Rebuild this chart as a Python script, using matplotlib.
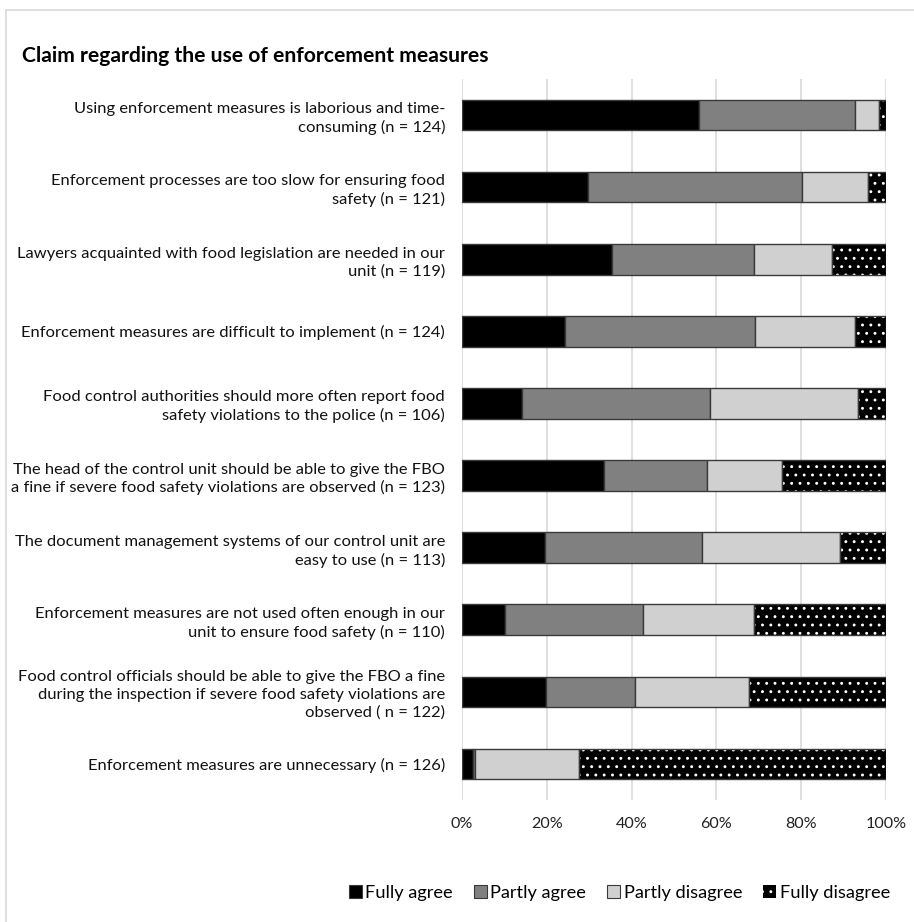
import matplotlib
matplotlib.use("Agg")
import matplotlib.pyplot as plt
from matplotlib.lines import Line2D
from matplotlib.patches import Patch

plt.rcParams['font.family'] = ['Lato', 'DejaVu Sans']
plt.rcParams['hatch.linewidth'] = 0.9

title = "Claim regarding the use of enforcement measures"

claims = [
    "Using enforcement measures is laborious and time-\nconsuming (n = 124)",
    "Enforcement processes are too slow for ensuring food\nsafety (n = 121)",
    "Lawyers acquainted with food legislation are needed in our\nunit (n = 119)",
    "Enforcement measures are difficult to implement (n = 124)",
    "Food control authorities should more often report food\nsafety violations to the police (n = 106)",
    "The head of the control unit should be able to give the FBO\na fine if severe food safety violations are observed (n = 123)",
    "The document management systems of our control unit are\neasy to use (n = 113)",
    "Enforcement measures are not used often enough in our\nunit to ensure food safety (n = 110)",
    "Food control officials should be able to give the FBO a fine\nduring the inspection if severe food safety violations are\nobserved ( n = 122)",
    "Enforcement measures are unnecessary (n = 126)",
]

# Shares of respondents (%)
fully_agree     = [55.9, 29.8, 35.4, 24.2, 14.2, 33.4, 19.5, 10.1, 19.7, 2.5]
partly_agree    = [36.8, 50.3, 33.4, 45.0, 44.3, 24.3, 37.1, 32.5, 21.2, 0.6]
partly_disagree = [5.6, 15.7, 18.5, 23.5, 34.8, 17.8, 32.6, 26.3, 26.9, 24.4]
fully_disagree  = [1.7, 4.2, 12.7, 7.3, 6.7, 24.5, 10.8, 31.1, 32.2, 72.5]

series_names = ["Fully agree", "Partly agree", "Partly disagree", "Fully disagree"]
x_ticks = [0, 20, 40, 60, 80, 100]
x_ticklabels = ["0%", "20%", "40%", "60%", "80%", "100%"]

W, H = 914, 922
DPI = 100
fig = plt.figure(figsize=(W / DPI, H / DPI), dpi=DPI)
renderer = fig.canvas.get_renderer()


def size_for_width(text, width_px, weight="normal"):
    """Font size (pt) at which `text` spans `width_px` pixels."""
    probe = fig.text(0, 0, text, fontsize=10, fontweight=weight)
    w = probe.get_window_extent(renderer).width
    probe.remove()
    return 10 * width_px / w


fs_label = size_for_width("Using enforcement measures is laborious and time-", 370)
fs_tick = size_for_width("100%", 41)
fs_leg = size_for_width("Fully disagree", 110)
fs_title = size_for_width(title, 468, weight="bold")

# light outer frame
fig.add_artist(Line2D([6 / W, 6 / W], [0, 1 - 10 / H], color="#d9d9d9", lw=1.2))
fig.add_artist(Line2D([6 / W, 1], [1 - 10 / H, 1 - 10 / H], color="#d9d9d9", lw=1.2))

ax = fig.add_axes([462 / W, 1 - 800 / H, 424 / W, 721 / H])

y = list(range(len(claims)))
edge = "#3a3a3a"
bh = 0.425

left = [0.0] * len(claims)
ax.barh(y, fully_agree, left=left, height=bh, color="black", edgecolor=edge, linewidth=1.0, zorder=3)
left = [a + b for a, b in zip(left, fully_agree)]
ax.barh(y, partly_agree, left=left, height=bh, color="#808080", edgecolor=edge, linewidth=1.0, zorder=3)
left = [a + b for a, b in zip(left, partly_agree)]
ax.barh(y, partly_disagree, left=left, height=bh, color="#d0d0d0", edgecolor=edge, linewidth=1.0, zorder=3)
left = [a + b for a, b in zip(left, partly_disagree)]
# dotted segment: black fill with white dots, then a dark outline on top
ax.barh(y, fully_disagree, left=left, height=bh, color="black", edgecolor="white",
        hatch="..", linewidth=0, zorder=3)
ax.barh(y, fully_disagree, left=left, height=bh, fill=False, edgecolor=edge, linewidth=1.0, zorder=4)

ax.set_xlim(0, 100)
ax.set_ylim(len(claims) - 0.5, -0.5)
ax.set_xticks(x_ticks)
ax.set_xticklabels(x_ticklabels, fontsize=fs_tick, color="#222222")
ax.set_yticks(y)
line_pitch = 20.5  # px between label lines
ls = line_pitch / (fs_label * DPI / 72 * 0.945)
ax.set_yticklabels(claims, fontsize=fs_label, color="#111111", linespacing=ls)
ax.tick_params(axis="both", length=0)
ax.tick_params(axis="x", pad=12)
ax.tick_params(axis="y", pad=12.2)
for lbl in ax.get_yticklabels():
    lbl.set_horizontalalignment("right")
for s in ax.spines.values():
    s.set_visible(False)
ax.grid(axis="x", color="#d9d9d9", lw=1.2, zorder=0)

fig.text(22 / W, 1 - 56 / H, title, fontsize=fs_title, fontweight="bold", va="center", ha="left")

fs_px = fs_leg * DPI / 72
handles = [
    Patch(facecolor="black", edgecolor=edge, lw=0.8),
    Patch(facecolor="#808080", edgecolor=edge, lw=0.8),
    Patch(facecolor="#d0d0d0", edgecolor=edge, lw=0.8),
    Patch(facecolor="black", edgecolor="white", hatch="..", lw=0),
]
fig.legend(handles, series_names, loc="center right", bbox_to_anchor=(890 / W, 1 - 893 / H),
           ncol=4, frameon=False, fontsize=fs_leg, borderpad=0, borderaxespad=0,
           handlelength=13 / fs_px, handleheight=13 / fs_px,
           handletextpad=3.5 / fs_px, columnspacing=21 / fs_px)

fig.savefig("out.png", dpi=DPI)
